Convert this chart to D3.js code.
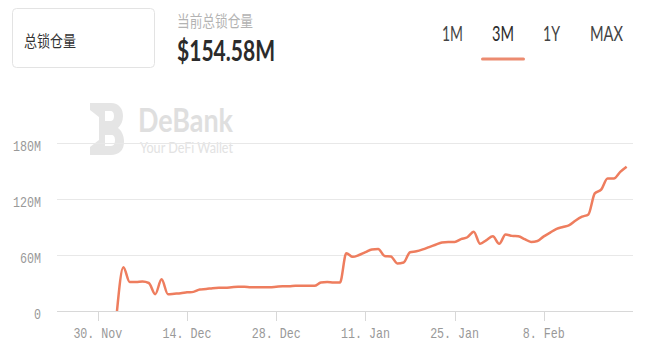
<!DOCTYPE html>
<html>
<head>
<meta charset="utf-8">
<script src="https://cdn.jsdelivr.net/npm/d3@7"></script>
<style>
  html, body { margin: 0; padding: 0; background: #fff; }
  svg { display: block; }
</style>
</head>
<body>
<script>
// 尺寸
const width = 652;
const height = 355;

// 数据：从 12 月 3 日开始的每日总锁仓量 (百万美元)
const startDay = new Date(2020, 11, 3);
const tvlValues = [
  0, 47, 31, 31, 31.5, 30, 18, 34, 18, 18.5, 19, 20, 20.5, 23, 23.5, 24.5, 25, 25, 25.5, 26,
  26, 25.5, 25.5, 25.5, 25.5, 26, 26.5, 26.5, 27,
  27, 27, 27, 30.5, 31, 30.5, 30.5, 62, 58, 60, 63, 66, 66.5, 59, 58.5, 51, 52, 63, 64, 66,
  68.5, 71, 73.5, 74, 74, 77, 79, 85, 72, 76, 80,
  72, 82, 80.5, 80, 77, 74, 75, 80, 84, 88, 90, 92, 97, 101, 103.5, 126, 130, 142, 142, 149, 154.58
];
const yTicks = [0, 60, 120, 180];
const xTickDates = [
  new Date(2020, 10, 30), new Date(2020, 11, 14), new Date(2020, 11, 28),
  new Date(2021, 0, 11), new Date(2021, 0, 25), new Date(2021, 1, 8)
];
const tabLabels = ["1M", "3M", "1Y", "MAX"];

const data = tvlValues.map((v, i) => ({ date: d3.timeDay.offset(startDay, i), value: v }));

const svg = d3.select("body").append("svg")
    .attr("width", width)
    .attr("height", height);

// 标题区域
svg.append("rect")
    .attr("x", 12.5).attr("y", 8.5)
    .attr("width", 142).attr("height", 59)
    .attr("rx", 4)
    .attr("fill", "#fff")
    .attr("stroke", "#e3e3e3");

svg.append("text")
    .attr("x", 24).attr("y", 47)
    .attr("font-family", "'Noto Sans CJK SC', sans-serif")
    .attr("font-size", 16)
    .attr("textLength", 52).attr("lengthAdjust", "spacingAndGlyphs")
    .attr("fill", "#333")
    .text("总锁仓量");

svg.append("text")
    .attr("x", 177).attr("y", 27)
    .attr("font-family", "'Noto Sans CJK SC', sans-serif")
    .attr("font-size", 16)
    .attr("textLength", 76).attr("lengthAdjust", "spacingAndGlyphs")
    .attr("fill", "#b3b3b3")
    .text("当前总锁仓量");

svg.append("text")
    .attr("x", 177).attr("y", 61)
    .attr("font-family", "Lato, sans-serif")
    .attr("font-weight", 700)
    .attr("font-size", 28)
    .attr("textLength", 98).attr("lengthAdjust", "spacingAndGlyphs")
    .attr("fill", "#2b2b2b")
    .text("$154.58M");

// 时间范围切换
const tabX = [452.5, 503, 551.5, 606.5];
const tabW = [21, 22, 17, 33];
svg.selectAll(".tab")
    .data(tabLabels)
    .enter().append("text")
    .attr("class", "tab")
    .attr("x", (d, i) => tabX[i] - tabW[i] / 2)
    .attr("y", 41)
    .attr("font-family", "Lato, sans-serif")
    .attr("font-size", 21)
    .attr("textLength", (d, i) => tabW[i]).attr("lengthAdjust", "spacingAndGlyphs")
    .attr("fill", d => d === "3M" ? "#2b2b2b" : "#444")
    .text(d => d);

svg.append("rect")
    .attr("x", 481).attr("y", 57.5)
    .attr("width", 44).attr("height", 3)
    .attr("rx", 1.5)
    .attr("fill", "#ec8b70");

// 水印
const wm = svg.append("g").attr("opacity", 0.9);
wm.append("path")
    .attr("d", "M90,103 H111 C119,103 123,109 123,116 C123,121 121,125 118,128 C122,131 124,136 124,142 " +
               "C124,150 119,155 111,155 H90 L90,147 L99,140 L99,117 L90,110 Z " +
               "M105,111 H110 C113,111 114,113 114,116 C114,119 113,121 110,121 H105 Z " +
               "M105,135 H111 C114,135 115,137 115,140 C115,143 114,146 111,146 H105 Z")
    .attr("fill-rule", "evenodd")
    .attr("fill", "#e3e3e3");
wm.append("text")
    .attr("x", 138).attr("y", 132)
    .attr("font-family", "Lato, sans-serif")
    .attr("font-weight", 700)
    .attr("font-size", 32)
    .attr("textLength", 95).attr("lengthAdjust", "spacingAndGlyphs")
    .attr("fill", "#dcdcdc")
    .text("DeBank");
wm.append("text")
    .attr("x", 140).attr("y", 153)
    .attr("font-family", "Lato, sans-serif")
    .attr("font-size", 15)
    .attr("textLength", 93).attr("lengthAdjust", "spacingAndGlyphs")
    .attr("fill", "#e0e0e0")
    .text("Your DeFi Wallet");

// 比例尺
const x = d3.scaleTime()
    .domain([new Date(2020, 10, 23, 14), new Date(2021, 1, 22)])
    .range([57, 633]);
const y = d3.scaleLinear()
    .domain([0, 180])
    .range([311, 143]);

// 网格线
svg.append("g")
    .selectAll("line")
    .data(yTicks)
    .enter().append("line")
    .attr("x1", 57).attr("x2", 633)
    .attr("y1", d => Math.round(y(d)) + 0.5)
    .attr("y2", d => Math.round(y(d)) + 0.5)
    .attr("stroke", d => d === 0 ? "#d8d8d8" : "#e8e8e8");

// y 轴标签
svg.append("g")
    .selectAll("text")
    .data(yTicks)
    .enter().append("text")
    .attr("x", 41)
    .attr("y", d => y(d) + 8)
    .attr("text-anchor", "end")
    .attr("font-family", "'Liberation Mono', monospace")
    .attr("font-size", 15)
    .attr("textLength", d => (d === 0 ? "0" : d + "M").length * 7)
    .attr("lengthAdjust", "spacingAndGlyphs")
    .attr("fill", "#999")
    .text(d => d === 0 ? "0" : d + "M");

// x 轴
const fmt = d3.timeFormat("%-d. %b");
const xAxis = svg.append("g");
xAxis.selectAll("line")
    .data(xTickDates)
    .enter().append("line")
    .attr("x1", d => Math.round(x(d)) + 0.5)
    .attr("x2", d => Math.round(x(d)) + 0.5)
    .attr("y1", 311).attr("y2", 321)
    .attr("stroke", "#d8d8d8");
xAxis.selectAll("text")
    .data(xTickDates)
    .enter().append("text")
    .attr("x", d => x(d) - fmt(d).length * 3.5)
    .attr("y", 338)
    .attr("font-family", "'Liberation Mono', monospace")
    .attr("font-size", 15)
    .attr("textLength", d => fmt(d).length * 7)
    .attr("lengthAdjust", "spacingAndGlyphs")
    .attr("fill", "#999")
    .text(d => fmt(d));

// 折线
const line = d3.line()
    .x(d => x(d.date))
    .y(d => y(d.value))
    .curve(d3.curveMonotoneX);

svg.append("path")
    .datum(data)
    .attr("fill", "none")
    .attr("stroke", "#ee7d5e")
    .attr("stroke-width", 2.5)
    .attr("stroke-linejoin", "round")
    .attr("d", line);
</script>
</body>
</html>
